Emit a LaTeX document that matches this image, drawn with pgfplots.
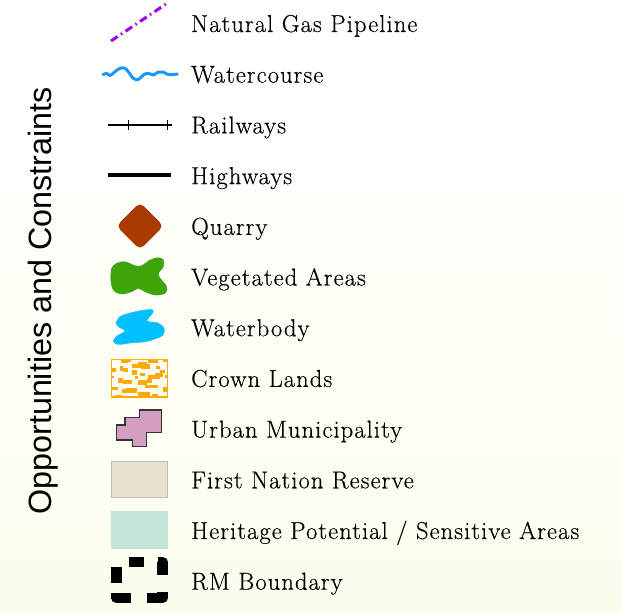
\documentclass[border=0pt]{standalone}
\usepackage{fontspec}
\setmainfont{Latin Modern Roman}[LetterSpace=4.5,FakeBold=0.35]
\newfontfamily\titlefont{Liberation Sans}
\usepackage{pgfplots}
\pgfplotsset{compat=1.18}
\definecolor{pipe}{RGB}{160,0,230}
\definecolor{wcourse}{RGB}{30,150,255}
\definecolor{quarry}{RGB}{168,58,2}
\definecolor{veg}{RGB}{61,165,10}
\definecolor{wbody}{RGB}{0,192,255}
\definecolor{crown}{RGB}{255,170,0}
\definecolor{urban}{RGB}{213,158,192}
\definecolor{fnfill}{RGB}{232,224,209}
\definecolor{fnedge}{RGB}{189,189,189}
\definecolor{herit}{RGB}{196,231,218}
\definecolor{cream}{RGB}{253,253,238}
\newcommand{\patch}[4]{\addplot[fill=crown,draw=none] coordinates {(#1,#2) (#3,#2) (#3,#4) (#1,#4)} -- cycle;}
\newcommand{\lab}[2]{\node[anchor=base west,inner sep=0pt,font=\fontsize{24.5}{28}\selectfont] at (axis cs:191,#1) {#2};}
\begin{document}
\begin{tikzpicture}
\begin{axis}[x=1pt,y=1pt,y dir=reverse,xmin=0,xmax=622,ymin=0,ymax=613,
  hide axis,clip=false,scale only axis]
\shade[top color=white,middle color=white,bottom color=cream] (axis cs:0,0) rectangle (axis cs:622,613);
% title
\node[rotate=90,inner sep=0pt,font=\titlefont\fontsize{32.3}{35}\selectfont] at (axis cs:43,301) {Opportunities and Constraints};
% pipeline
\addplot[pipe,line width=3pt,dash pattern=on 8pt off 4pt on 1.5pt off 4pt] coordinates {(111,41) (166,4)};
% watercourse
\addplot[wcourse,line width=3pt,smooth,tension=0.6] coordinates {(102.3,75) (106.7,73.3) (110,75.5) (115,71.7) (120,68.3) (125,68.3) (128.3,71.7) (133.3,78.3) (138.3,79.5) (143.3,75) (148.3,73.3) (153.3,75) (158.3,72) (163.3,72) (168.3,74.5) (178.3,74)};
% railways
\addplot[black,line width=1.3pt] coordinates {(108,125) (172,125)};
\addplot[black,line width=1pt] coordinates {(128,120) (128,130)};
\addplot[black,line width=1pt] coordinates {(167,120) (167,130)};
% highways
\addplot[black,line width=4pt] coordinates {(108,175) (171,175)};
% quarry
\addplot[fill=quarry,draw=quarry,line width=1pt,rounded corners=5pt] coordinates {(151.5,214.5) (163,226) (140,249) (117,226) (140,203)} -- cycle;
% vegetated
\addplot[fill=veg,draw=veg,smooth,tension=0.55] coordinates {(110.7,278.3) (111.7,268.3) (116.7,263.3) (125,261.7) (135,265.7) (141.7,265.7) (150,260) (158.3,257.7) (163.3,260) (163.3,266.7) (158.3,275) (166.7,286.7) (165,293.3) (155,295) (145,291.7) (138.3,288.3) (131.7,291.7) (121.7,294) (113.3,290) (110.7,278.3) (111.7,268.3)} -- cycle;
% waterbody
\addplot[fill=wbody,draw=wbody,smooth,tension=0.55] coordinates {(116,323) (120,316.7) (130,313) (145,310) (153,310) (152,314) (147,321) (158,323) (164,328) (163,335) (155,339) (145,341.7) (130,343) (118,344.5) (113.5,341) (117,336) (125,331) (119,327) (116,323) (120,316.7)} -- cycle;
% crown lands
\patch{121}{360}{128.3}{363}
\patch{138.3}{361.7}{146.7}{368.3}
\patch{132.3}{364.3}{138.3}{367.5}
\patch{148.3}{360}{158.3}{363}
\patch{163.3}{359}{166.7}{362.3}
\patch{112.3}{368.3}{115.7}{371.5}
\patch{120}{366}{123.3}{371}
\patch{123.3}{368.3}{128.3}{372.3}
\patch{131.7}{370}{136.7}{375}
\patch{141}{364.3}{150}{369}
\patch{155}{373.3}{163.3}{376.7}
\patch{148.3}{375}{160}{379}
\patch{160}{370}{165}{373.3}
\patch{111.7}{375.7}{114.3}{378.3}
\patch{135}{375.7}{138.3}{379}
\patch{118.3}{378.3}{123.3}{383.3}
\patch{123.3}{380}{131.7}{384}
\patch{138.3}{380}{146.7}{385}
\patch{146.7}{378.3}{151.7}{383.3}
\patch{165}{375}{167.7}{378.3}
\patch{112.3}{386.7}{118.3}{390}
\patch{125.7}{388.3}{136.7}{393.3}
\patch{121.7}{389.3}{125.7}{392.5}
\patch{145}{385}{158.3}{388.3}
\patch{163.3}{386.7}{166.7}{391.7}
\patch{138.3}{392.3}{150}{396.7}
\patch{115}{395}{121.7}{397.3}
\patch{151.7}{394.3}{158.3}{397.3}
\patch{128}{360}{131}{362}
\patch{156}{366}{160}{369}
\patch{140}{373}{145}{376}
\addplot[crown,line width=1.3pt] coordinates {(111.5,359.5) (167.2,359.5) (167.2,397) (111.5,397)} -- cycle;
% urban municipality
\addplot[fill=urban,draw=black!80,line width=1.3pt] coordinates {(116.7,425) (125,425) (125,417.7) (139.3,417.7) (139.3,410) (161.7,410) (161.7,432.7) (146.7,432.7) (146.7,446.7) (132.3,446.7) (132.3,440) (116.7,440)} -- cycle;
% first nation
\addplot[fill=fnfill,draw=fnedge,line width=1.2pt] coordinates {(111.5,461.2) (167.2,461.2) (167.2,497.8) (111.5,497.8)} -- cycle;
% heritage
\addplot[fill=herit,draw=herit,line width=0.5pt] coordinates {(111,511.7) (167.7,511.7) (167.7,548.3) (111,548.3)} -- cycle;
% RM boundary
\addplot[black,line width=10.5pt,line join=round] coordinates {(129,562) (144,562)};
\addplot[black,line width=10.5pt,line join=round] coordinates {(157.7,562) (162.7,562) (162.7,575)};
\addplot[black,line width=10.5pt,line join=round] coordinates {(162.7,591.7) (162.7,598) (146.7,598)};
\addplot[black,line width=10.5pt,line join=round] coordinates {(131,598) (116.3,598) (116.3,593)};
\addplot[black,line width=10.5pt,line join=round] coordinates {(116.3,582.7) (116.3,566.7)};
% labels
\lab{32}{Natural Gas Pipeline}
\lab{82.7}{Watercourse}
\lab{133.4}{Railways}
\lab{184.1}{Highways}
\lab{234.8}{Quarry}
\lab{285.5}{Vegetated Areas}
\lab{336.2}{Waterbody}
\lab{386.9}{Crown Lands}
\lab{437.6}{Urban Municipality}
\lab{488.3}{First Nation Reserve}
\lab{539}{Heritage Potential / Sensitive Areas}
\lab{589.7}{RM Boundary}
\end{axis}
\end{tikzpicture}
\end{document}
